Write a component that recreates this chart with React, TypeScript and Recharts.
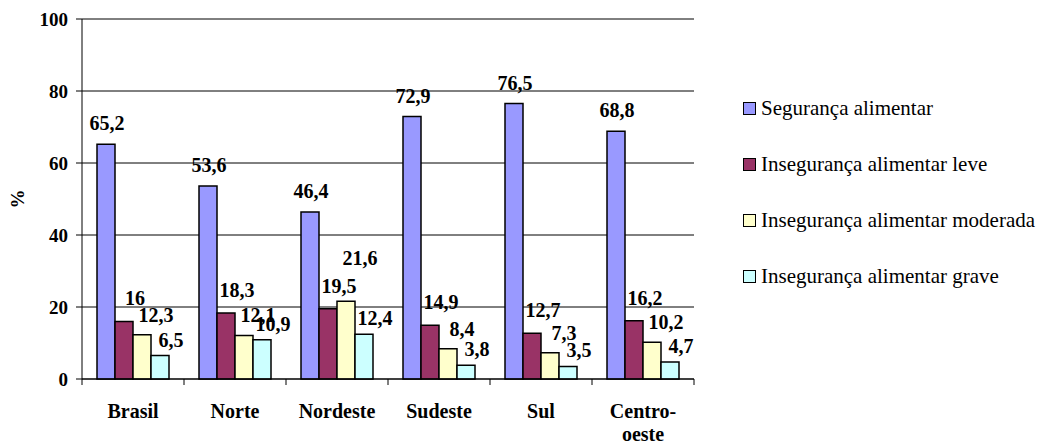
import React from "react";
import { BarChart, Bar, XAxis, YAxis, CartesianGrid, LabelList } from "recharts";

const categories = ["Brasil", "Norte", "Nordeste", "Sudeste", "Sul", "Centro-oeste"];
const seriesNames = [
  "Segurança alimentar",
  "Insegurança alimentar leve",
  "Insegurança alimentar moderada",
  "Insegurança alimentar grave",
];
const seguranca = [65.2, 53.6, 46.4, 72.9, 76.5, 68.8];
const leve = [16, 18.3, 19.5, 14.9, 12.7, 16.2];
const moderada = [12.3, 12.1, 21.6, 8.4, 7.3, 10.2];
const grave = [6.5, 10.9, 12.4, 3.8, 3.5, 4.7];
const yTicks = [0, 20, 40, 60, 80, 100];

const seriesValues = [seguranca, leve, moderada, grave];
const keys = ["s0", "s1", "s2", "s3"];
const colors = ["#9999FF", "#993366", "#FFFFCC", "#CCFFFF"];

const data = categories.map((c, i) => ({
  name: c,
  s0: seguranca[i],
  s1: leve[i],
  s2: moderada[i],
  s3: grave[i],
}));

const W = 1037;
const H = 445;
const MARGIN = { top: 19, right: 343, bottom: 0, left: 0 };
const X_AXIS_H = 66;
const Y_AXIS_W = 82;
const PLOT_W = W - MARGIN.left - MARGIN.right - Y_AXIS_W;
const PLOT_H = H - MARGIN.top - MARGIN.bottom - X_AXIS_H;
const AXIS_Y = MARGIN.top + PLOT_H;
const BAND = PLOT_W / categories.length;
const FONT = '"Liberation Serif", "DejaVu Serif", serif';

const LABEL_DX = [1, 11, 14, 11];
const LABEL_DY = [14, 16, 13, 9];

const fmt = (v: number) => String(v).replace(".", ",");

const makeLabel = (k: number) => (props: any) => {
  const { x, y, width, height, value, index } = props;
  const cx = Number(x) + Number(width) / 2 + LABEL_DX[k];
  const top = Number(y);
  let base = top - LABEL_DY[k];
  if (k > 0) {
    const prev = seriesValues[k - 1][index];
    if (value > prev) {
      const scale = Number(height) / Number(value);
      const prevTop = top + (value - prev) * scale;
      const prevBase = prevTop - LABEL_DY[k - 1];
      base = prevBase - 28;
    }
  }
  return (
    <text x={cx} y={base} textAnchor="middle" style={{ fontFamily: FONT }} fontWeight="bold" fontSize={20} fill="#000">
      {fmt(value)}
    </text>
  );
};

const XTick = (props: any) => {
  const { x, payload, index } = props;
  const label: string = payload.value;
  const h = label.indexOf("-");
  const parts = h >= 0 ? [label.slice(0, h + 1), label.slice(h + 1)] : [label];
  const left = x - BAND / 2;
  const right = x + BAND / 2;
  return (
    <g>
      <line x1={left} x2={left} y1={AXIS_Y} y2={AXIS_Y + 6} stroke="#000" strokeWidth={1} />
      {index === categories.length - 1 && (
        <line x1={right} x2={right} y1={AXIS_Y} y2={AXIS_Y + 6} stroke="#000" strokeWidth={1} />
      )}
      {parts.map((p, i) => (
        <text key={i} x={x} y={AXIS_Y + 39 + i * 23} textAnchor="middle" style={{ fontFamily: FONT }} fontWeight="bold" fontSize={20} fill="#000">
          {p}
        </text>
      ))}
    </g>
  );
};

const LegendBox = () => (
  <div style={{ position: "absolute", left: 743, top: 80, fontFamily: FONT, fontSize: 21, color: "#000" }}>
    {seriesNames.map((n, i) => (
      <div key={n} style={{ height: 56, display: "flex", alignItems: "center" }}>
        <span
          style={{
            display: "inline-block",
            width: 11,
            height: 11,
            background: colors[i],
            border: "1.5px solid #000",
            marginRight: 5,
          }}
        />
        <span style={{ lineHeight: 1, whiteSpace: "nowrap" }}>{n}</span>
      </div>
    ))}
  </div>
);

export default function App() {
  return (
    <div style={{ position: "absolute", left: 0, top: 0, width: W, height: H, background: "#fff", fontFamily: FONT }}>
      <BarChart width={W} height={H} data={data} margin={MARGIN} barCategoryGap={15} barGap={0}>
        <CartesianGrid vertical={false} stroke="#000" strokeWidth={1} />
        <XAxis
          dataKey="name"
          axisLine={{ stroke: "#000", strokeWidth: 1 }}
          tickLine={false}
          tick={<XTick />}
          interval={0}
          height={X_AXIS_H}
        />
        <YAxis
          width={Y_AXIS_W}
          domain={[0, 100]}
          ticks={yTicks}
          interval={0}
          axisLine={{ stroke: "#000", strokeWidth: 1 }}
          tickLine={{ stroke: "#000", strokeWidth: 1 }}
          tickSize={6}
          tickMargin={8}
          tick={{ style: { fontFamily: FONT }, fontWeight: "bold", fontSize: 19, fill: "#000" }}
          label={{
            content: (p: any) => {
              const vb = p.viewBox || { x: 0, y: MARGIN.top, width: Y_AXIS_W, height: PLOT_H };
              const lx = vb.x + 17;
              const ly = vb.y + vb.height / 2;
              return (
                <text
                  x={lx}
                  y={ly}
                  transform={`rotate(-90 ${lx} ${ly})`}
                  textAnchor="middle"
                  dominantBaseline="central"
                  style={{ fontFamily: FONT }}
                  fontWeight="bold"
                  fontSize={19}
                  fill="#000"
                >
                  %
                </text>
              );
            },
          }}
        />
        <YAxis
          yAxisId="right"
          orientation="right"
          width={0}
          domain={[0, 100]}
          tick={false}
          tickLine={false}
          axisLine={{ stroke: "#999", strokeWidth: 2 }}
        />
        {keys.map((k, i) => (
          <Bar
            key={k}
            dataKey={k}
            name={seriesNames[i]}
            fill={colors[i]}
            stroke="#000"
            strokeWidth={1.5}
            isAnimationActive={false}
          >
            <LabelList dataKey={k} content={makeLabel(i)} />
          </Bar>
        ))}
      </BarChart>
      <LegendBox />
    </div>
  );
}
